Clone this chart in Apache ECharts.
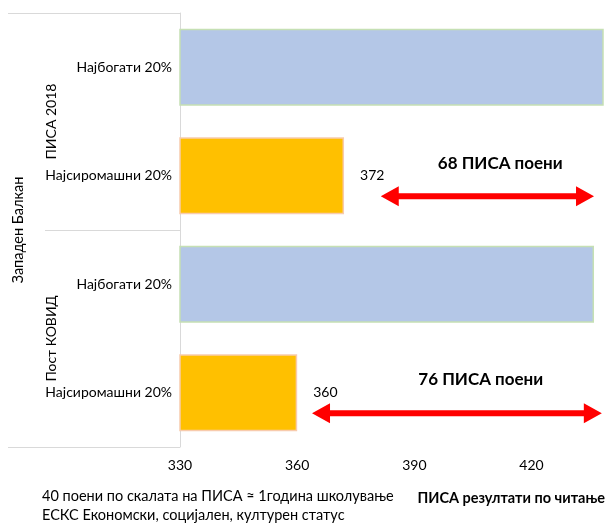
<!DOCTYPE html>
<html>
<head>
<meta charset="utf-8">
<script src="https://cdn.jsdelivr.net/npm/echarts@6/dist/echarts.min.js"></script>
<style>
html,body{margin:0;padding:0;background:#fff;}
#chart{width:606px;height:523px;}
</style>
</head>
<body>
<div id="chart"></div>
<script>
// ---- data ----
const categories = ['Најбогати 20%', 'Најсиромашни 20%', 'Најбогати 20%', 'Најсиромашни 20%'];
const groups = ['ПИСА 2018', 'Пост КОВИД'];
const region = ['Западен Балкан'];
const scores = [440, 372, 436, 360];
const isPoorest = [false, true, false, true];
const gapLabels = ['68 ПИСА поени', '76 ПИСА поени'];
const gapRows = [1, 3];
const arrowFrom = [381.4, 363.8];
const arrowTo = [436.0, 438.0];
const gapLabelX = [412, 407];
const xMin = 330, xMax = 438.3, xStep = 30;
const noteLines = ['40 поени по скалата на ПИСА ≈ 1година школување', 'ЕСКС Економски, социјален, културен статус'];
const xAxisTitle = 'ПИСА резултати по читање';

const FONT = 'Lato, "Noto Sans", sans-serif';
const chart = echarts.init(document.getElementById('chart'), null, {renderer: 'canvas'});

const barData = scores.map((v, i) => ({
  value: v,
  itemStyle: isPoorest[i]
    ? {color: '#FFC000', borderColor: '#F8CBAD', borderWidth: 1.5}
    : {color: '#B4C7E7', borderColor: '#C5E0B4', borderWidth: 1.5},
  label: {show: isPoorest[i]}
}));

chart.setOption({
  animation: false,
  grid: {left: 180, right: 0, top: 13, bottom: 76, containLabel: false},
  xAxis: {
    type: 'value', min: xMin, max: xMax, interval: xStep,
    axisLine: {show: false}, axisTick: {show: false}, splitLine: {show: false},
    axisLabel: {
      fontFamily: FONT, fontSize: 14, color: '#000', margin: 11,
      formatter: v => (Math.abs((v - xMin) % xStep) < 1e-6 ? String(v) : '')
    }
  },
  yAxis: [
    {
      type: 'category', data: categories, inverse: true,
      axisLine: {show: true, lineStyle: {color: '#D9D9D9', width: 1}},
      axisTick: {show: false},
      axisLabel: {fontFamily: FONT, fontSize: 14, color: '#000', margin: 8}
    },
    {
      type: 'category', data: groups, inverse: true, position: 'left',
      axisLine: {show: false},
      axisTick: {show: true, length: 135, lineStyle: {color: '#D9D9D9', width: 1}},
      axisLabel: {fontFamily: FONT, fontSize: 14, color: '#000', rotate: 90, margin: 122}
    },
    {
      type: 'category', data: region, inverse: true, position: 'left',
      axisLine: {show: false},
      axisTick: {show: true, length: 172, lineStyle: {color: '#D9D9D9', width: 1}},
      axisLabel: {fontFamily: FONT, fontSize: 14.5, color: '#000', rotate: 90, margin: 154}
    }
  ],
  series: [{
    type: 'bar', yAxisIndex: 0, data: barData,
    barCategoryGap: '29%', clip: true,
    label: {position: 'right', distance: 16, fontFamily: FONT, fontSize: 14, color: '#000'}
  }]
});

// ---- annotations (positions from the chart's own scales) ----
const g = [];
gapRows.forEach((row, i) => {
  const p1 = chart.convertToPixel({gridIndex: 0}, [arrowFrom[i], row]);
  const p2 = chart.convertToPixel({gridIndex: 0}, [arrowTo[i], row]);
  const y = p1[1] + 20.5;
  const x1 = p1[0], x2 = p2[0];
  const hl = 18, hw = 10, sw = 3;
  g.push({
    type: 'polygon', z: 100,
    shape: {points: [
      [x1, y], [x1 + hl, y - hw], [x1 + hl, y - sw], [x2 - hl, y - sw], [x2 - hl, y - hw],
      [x2, y], [x2 - hl, y + hw], [x2 - hl, y + sw], [x1 + hl, y + sw], [x1 + hl, y + hw]
    ]},
    style: {fill: '#FF0000'}
  });
  const lp = chart.convertToPixel({gridIndex: 0}, [gapLabelX[i], row]);
  g.push({
    type: 'text', z: 100, x: lp[0], y: p1[1] - (i === 0 ? 12 : 13.5),
    style: {text: gapLabels[i], fontFamily: FONT, fontSize: 17, fontWeight: 'bold', fill: '#000',
            align: 'center', verticalAlign: 'middle'}
  });
});
noteLines.forEach((t, i) => {
  g.push({
    type: 'text', x: 42, y: 496 + i * 19,
    style: {text: t, fontFamily: FONT, fontSize: 14.5, fill: '#000', align: 'left', verticalAlign: 'middle'}
  });
});
g.push({
  type: 'text', x: 605, y: 498,
  style: {text: xAxisTitle, fontFamily: FONT, fontSize: 14.5, fontWeight: 'bold', fill: '#000',
          align: 'right', verticalAlign: 'middle'}
});
chart.setOption({graphic: g});
</script>
</body>
</html>
